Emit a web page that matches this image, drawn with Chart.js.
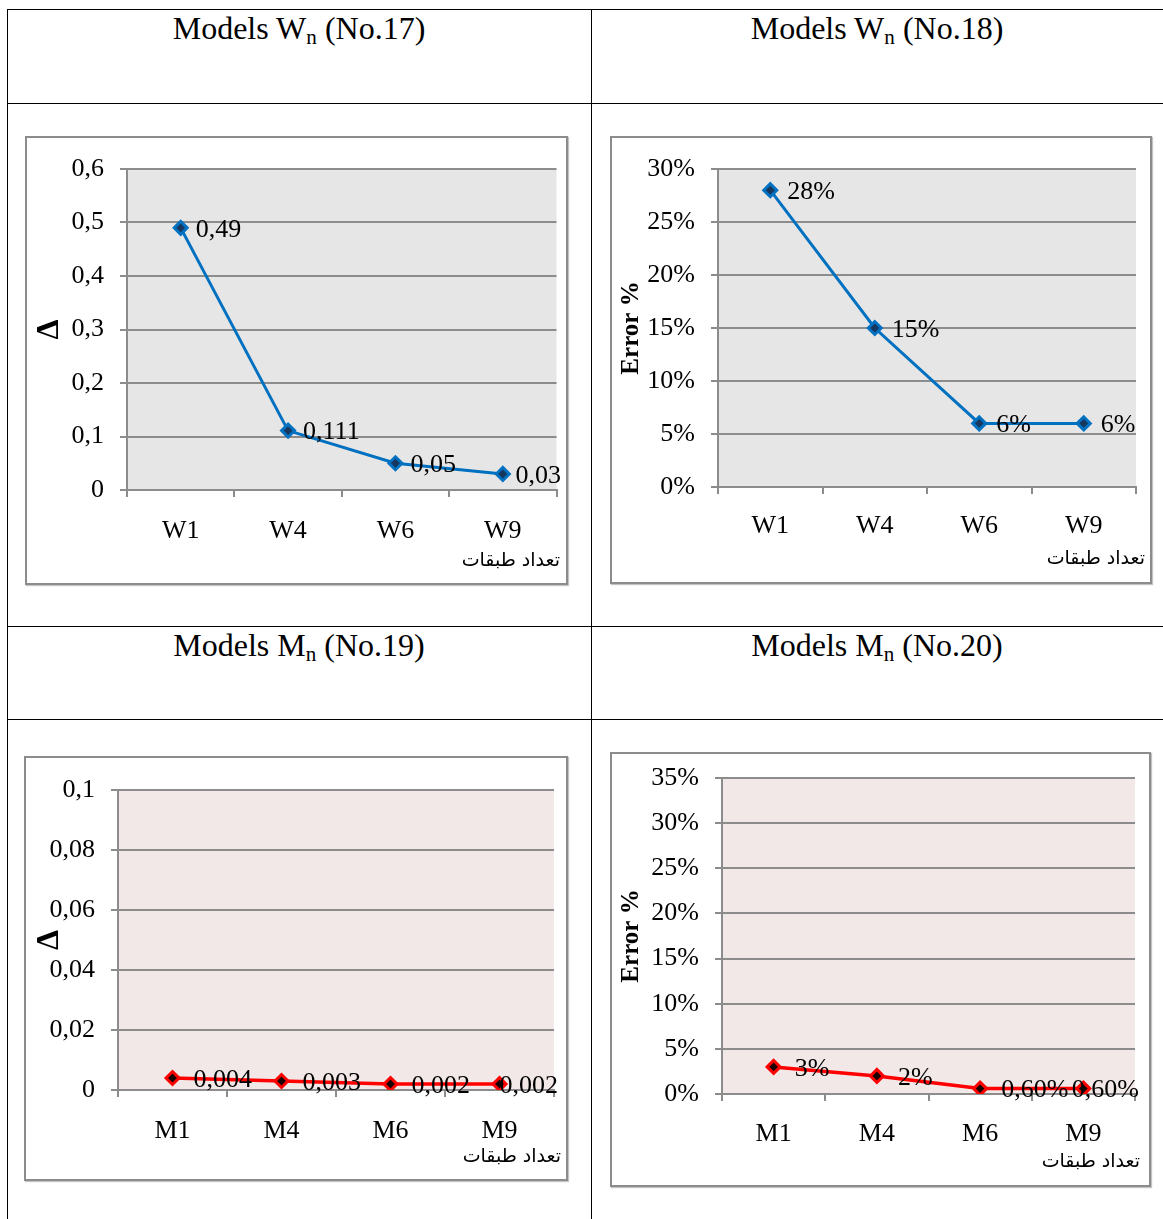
<!DOCTYPE html>
<html>
<head>
<meta charset="utf-8">
<script src="https://cdn.jsdelivr.net/npm/chart.js@4.4.0/dist/chart.umd.min.js"></script>
<style>
  body { margin: 0; width: 1163px; height: 1219px; background: #fff; position: relative; overflow: hidden;
         font-family: "Liberation Serif", "Times New Roman", serif; }
  .hl { position: absolute; left: 7px; width: 1156px; height: 1px; background: #000; }
  .vl { position: absolute; top: 9px; height: 1210px; width: 1px; background: #000; }
  .title { position: absolute; top: 9px; font-size: 32px; line-height: 1.2; text-align: center; color: #000; }
  .title sub { font-size: 0.66em; vertical-align: -0.25em; line-height: 0; }
  .box { position: absolute; box-sizing: border-box; border: 2px solid #8c8c8c; box-shadow: 1px 1px 1px #c4c4c4; background: #fff; }
  .box canvas { display: block; }
</style>
</head>
<body>

<div class="hl" style="top:9px"></div>
<div class="hl" style="top:103px"></div>
<div class="hl" style="top:626px"></div>
<div class="hl" style="top:719px"></div>
<div class="vl" style="left:7px"></div>
<div class="vl" style="left:591px"></div>

<div class="title" style="left:7px;width:584px">Models W<sub>n</sub> (No.17)</div>
<div class="title" style="left:591px;width:572px">Models W<sub>n</sub> (No.18)</div>
<div class="title" style="top:626px;left:7px;width:584px">Models M<sub>n</sub> (No.19)</div>
<div class="title" style="top:626px;left:591px;width:572px">Models M<sub>n</sub> (No.20)</div>

<div class="box" style="left:25px;top:136px;width:543px;height:449px"><canvas id="c17"></canvas></div>
<div class="box" style="left:610px;top:136px;width:542px;height:448px"><canvas id="c18"></canvas></div>
<div class="box" style="left:24px;top:756px;width:544px;height:425px"><canvas id="c19"></canvas></div>
<div class="box" style="left:610px;top:752px;width:541px;height:435px"><canvas id="c20"></canvas></div>

<script>
// W models
var wLabels = ['W1', 'W4', 'W6', 'W9'];
var w17Values = [0.49, 0.111, 0.05, 0.03];
var w17Text = ['0,49', '0,111', '0,05', '0,03'];
var w17TickValues = [0, 0.1, 0.2, 0.3, 0.4, 0.5, 0.6];
var w17TickText = ['0', '0,1', '0,2', '0,3', '0,4', '0,5', '0,6'];

var w18Values = [0.28, 0.15, 0.06, 0.06];
var w18Text = ['28%', '15%', '6%', '6%'];
var w18TickValues = [0, 0.05, 0.10, 0.15, 0.20, 0.25, 0.30];
var w18TickText = ['0%', '5%', '10%', '15%', '20%', '25%', '30%'];

// M models
var mLabels = ['M1', 'M4', 'M6', 'M9'];
var m19Values = [0.004, 0.003, 0.002, 0.002];
var m19Text = ['0,004', '0,003', '0,002', '0,002'];
var m19TickValues = [0, 0.02, 0.04, 0.06, 0.08, 0.1];
var m19TickText = ['0', '0,02', '0,04', '0,06', '0,08', '0,1'];

var m20Values = [0.03, 0.02, 0.006, 0.006];
var m20Text = ['3%', '2%', '0,60%', '0,60%'];
var m20TickValues = [0, 0.05, 0.10, 0.15, 0.20, 0.25, 0.30, 0.35];
var m20TickText = ['0%', '5%', '10%', '15%', '20%', '25%', '30%', '35%'];

var xTitle = 'تعداد طبقات';

var SERIF = '"Liberation Serif", "Times New Roman", serif';
var GRID = '#8c8c8c';
var TICK_SIZE = 26;
var TICK_LEN = 7;

// plot background, point values and the x axis caption
var plotDecor = {
    id: 'plotDecor',
    beforeDraw: function(chart, args, opts) {
        var a = chart.chartArea, ctx = chart.ctx;
        ctx.save();
        ctx.fillStyle = opts.background;
        ctx.fillRect(a.left, a.top, a.right - a.left, a.bottom - a.top);
        ctx.restore();
    },
    afterDatasetsDraw: function(chart, args, opts) {
        var ctx = chart.ctx;
        var meta = chart.getDatasetMeta(0);
        ctx.save();
        ctx.font = TICK_SIZE + 'px ' + SERIF;
        ctx.fillStyle = '#000';
        ctx.textAlign = 'left';
        ctx.textBaseline = 'middle';
        meta.data.forEach(function(pt, i) {
            var w = ctx.measureText(opts.text[i]).width;
            // keep the last labels inside the frame
            var x = Math.min(pt.x + opts.dx, opts.limit - w);
            ctx.fillText(opts.text[i], x, pt.y + opts.dy);
        });

        ctx.font = '19px "DejaVu Sans", sans-serif';
        ctx.textAlign = 'right';
        ctx.fillText(xTitle, opts.xTitleRight, opts.xTitleY);
        ctx.restore();
    }
};

function drawChart(id, cfg) {
    var box = cfg.box, plot = cfg.plot;
    var ox = box.l + 2, oy = box.t + 2, iw = box.w - 4, ih = box.h - 4;
    var canvas = document.getElementById(id);
    canvas.width = iw;
    canvas.height = ih;

    var tickLH = TICK_SIZE * 1.2;
    var yTitleLH = cfg.yTitleSize * 1.2;

    return new Chart(canvas, {
        type: 'line',
        data: {
            labels: cfg.labels,
            datasets: [{
                data: cfg.values,
                borderColor: cfg.color,
                borderWidth: cfg.lineWidth,
                pointStyle: 'rectRot',
                pointRadius: 6.5,
                pointBorderWidth: 3,
                pointBorderColor: cfg.color,
                pointBackgroundColor: cfg.dot,
                tension: 0
            }]
        },
        options: {
            responsive: false,
            animation: false,
            devicePixelRatio: 1,
            layout: {
                padding: { top: plot.t - oy, right: ox + iw - plot.r, left: 0, bottom: 0 }
            },
            plugins: {
                legend: { display: false },
                tooltip: { enabled: false },
                plotDecor: {
                    background: cfg.bg, text: cfg.text, dx: cfg.dx, dy: 2,
                    limit: plot.r + 4 - ox,
                    xTitleRight: cfg.xTitleRight - ox, xTitleY: cfg.xTitleY - oy
                }
            },
            scales: {
                x: {
                    offset: true,
                    afterFit: function(s) { s.height = oy + ih - plot.b; },
                    grid: { offset: true, drawOnChartArea: false, color: GRID, lineWidth: 2, tickLength: TICK_LEN },
                    border: { color: GRID, width: 2 },
                    ticks: {
                        color: '#000',
                        font: { family: SERIF, size: TICK_SIZE },
                        padding: cfg.xLabelY - plot.b - TICK_LEN - tickLH / 2,
                        maxRotation: 0
                    }
                },
                y: {
                    min: cfg.tickValues[0],
                    max: cfg.tickValues[cfg.tickValues.length - 1],
                    afterFit: function(s) {
                        s.width = plot.l - ox;
                        s.paddingTop = 0;
                        s.paddingBottom = 0;
                    },
                    afterBuildTicks: function(s) {
                        s.ticks = cfg.tickValues.map(function(v) { return { value: v }; });
                    },
                    grid: { color: GRID, lineWidth: 2, tickLength: TICK_LEN },
                    border: { color: GRID, width: 2 },
                    ticks: {
                        color: '#000',
                        font: { family: SERIF, size: TICK_SIZE },
                        padding: 16,
                        callback: function(v, i) { return cfg.tickText[i]; }
                    },
                    title: {
                        display: true,
                        text: cfg.yTitle,
                        color: '#000',
                        font: { family: SERIF, size: cfg.yTitleSize, weight: 'bold' },
                        padding: { top: cfg.yTitleX - ox - yTitleLH / 2, bottom: 0 }
                    }
                }
            }
        },
        plugins: [plotDecor]
    });
}

drawChart('c17', {
    box: { l: 25, t: 136, w: 543, h: 449 },
    plot: { l: 127, r: 557, t: 169, b: 490 },
    xLabelY: 531, xTitleY: 561, xTitleRight: 560, yTitleX: 50,
    labels: wLabels, values: w17Values, text: w17Text,
    tickValues: w17TickValues, tickText: w17TickText,
    yTitle: 'Δ', yTitleSize: 32,
    color: '#0070c0', dot: '#17375e', bg: '#e6e6e6', dx: 15, lineWidth: 3
});

drawChart('c18', {
    box: { l: 610, t: 136, w: 542, h: 448 },
    plot: { l: 718, r: 1136, t: 169, b: 487 },
    xLabelY: 526, xTitleY: 559, xTitleRight: 1145, yTitleX: 632,
    labels: wLabels, values: w18Values, text: w18Text,
    tickValues: w18TickValues, tickText: w18TickText,
    yTitle: 'Error %', yTitleSize: 25,
    color: '#0070c0', dot: '#17375e', bg: '#e6e6e6', dx: 17, lineWidth: 3
});

drawChart('c19', {
    box: { l: 24, t: 756, w: 544, h: 425 },
    plot: { l: 118, r: 554, t: 790, b: 1090 },
    xLabelY: 1131, xTitleY: 1157, xTitleRight: 561, yTitleX: 50,
    labels: mLabels, values: m19Values, text: m19Text,
    tickValues: m19TickValues, tickText: m19TickText,
    yTitle: 'Δ', yTitleSize: 32,
    color: '#ff0000', dot: '#1a0000', bg: '#f2e8e7', dx: 21, lineWidth: 3.5
});

drawChart('c20', {
    box: { l: 610, t: 752, w: 541, h: 435 },
    plot: { l: 722, r: 1135, t: 778, b: 1094 },
    xLabelY: 1134, xTitleY: 1162, xTitleRight: 1140, yTitleX: 632,
    labels: mLabels, values: m20Values, text: m20Text,
    tickValues: m20TickValues, tickText: m20TickText,
    yTitle: 'Error %', yTitleSize: 25,
    color: '#ff0000', dot: '#1a0000', bg: '#f2e8e7', dx: 21, lineWidth: 3.5
});
</script>
</body>
</html>
